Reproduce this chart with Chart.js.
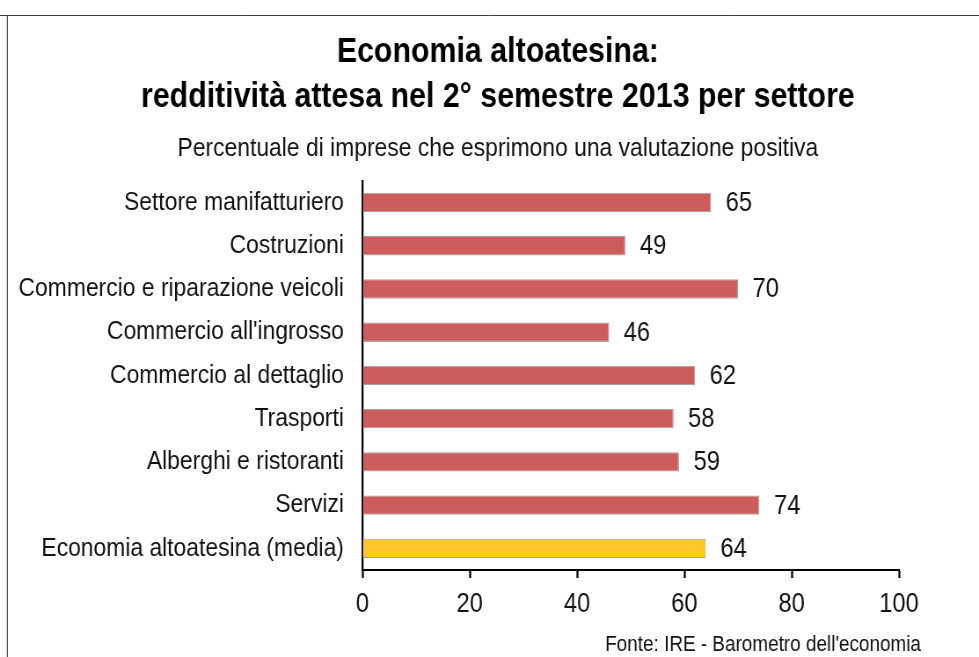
<!DOCTYPE html>
<html lang="it">
<head>
<meta charset="utf-8">
<title>Economia altoatesina: redditività attesa nel 2° semestre 2013</title>
<script src="https://cdn.jsdelivr.net/npm/chart.js@4.4.1/dist/chart.umd.min.js"></script>
<style>
    html, body { margin: 0; padding: 0; background: #fff; overflow: hidden; }
    /* the canvas is laid out wider and squeezed back to 979px, which gives the narrow lettering */
    #wrap {
        position: absolute;
        left: 0;
        top: 0;
        width: 1113px;
        height: 657px;
        transform: scaleX(0.8796);
        transform-origin: 0 0;
    }
</style>
</head>
<body>
<div id="wrap"><canvas id="redditivitaChart"></canvas></div>
<script>
const categories = [
    'Settore manifatturiero',
    'Costruzioni',
    'Commercio e riparazione veicoli',
    "Commercio all'ingrosso",
    'Commercio al dettaglio',
    'Trasporti',
    'Alberghi e ristoranti',
    'Servizi',
    'Economia altoatesina (media)'
];
const positiveShare = [65, 49, 70, 46, 62, 58, 59, 74, 64];
const xTickValues = [0, 20, 40, 60, 80, 100];

const titleLines = ['Economia altoatesina:', 'redditività attesa nel 2° semestre 2013 per settore'];
const subtitleText = 'Percentuale di imprese che esprimono una valutazione positiva';
const sourceText = "Fonte: IRE - Barometro dell'economia";

document.addEventListener('DOMContentLoaded', function() {
    const FONT = "'Liberation Sans', Arial, sans-serif";
    const SCALE_X = 0.8796;
    const averageIndex = categories.length - 1;

    // thin frame round the whole graphic
    const framePlugin = {
        id: 'frame',
        beforeDraw(chart) {
            const ctx = chart.ctx;
            ctx.save();
            ctx.strokeStyle = '#3c3c3c';
            ctx.lineWidth = 1;
            ctx.beginPath();
            ctx.moveTo(0, 15.5);
            ctx.lineTo(chart.width, 15.5);
            ctx.stroke();
            ctx.lineWidth = 1 / SCALE_X;
            ctx.beginPath();
            ctx.moveTo(8.3, 15);
            ctx.lineTo(8.3, chart.height);
            ctx.stroke();
            ctx.restore();
        }
    };

    // title and subtitle are centred on the frame, not on the padded box
    const centreTitles = {
        id: 'centreTitles',
        afterLayout(chart) {
            chart.boxes.forEach(function(box) {
                const opts = box.options || {};
                if (box.position === 'top' && (typeof opts.text === 'string' || Array.isArray(opts.text))) {
                    box.left = 110;
                }
            });
        }
    };

    // numbers at the end of each bar, plus the source line
    const valueLabels = {
        id: 'valueLabels',
        afterDatasetsDraw(chart) {
            const ctx = chart.ctx;
            const meta = chart.getDatasetMeta(0);
            ctx.save();
            ctx.font = '27px ' + FONT;
            ctx.fillStyle = '#111';
            ctx.textAlign = 'left';
            ctx.textBaseline = 'middle';
            meta.data.forEach(function(bar, i) {
                ctx.fillText(String(chart.data.datasets[0].data[i]), bar.x + 16.5, bar.y + 1);
            });
            ctx.font = '21.5px ' + FONT;
            ctx.textAlign = 'right';
            ctx.fillText(sourceText, 1047, 645);
            ctx.restore();
        }
    };

    const ctx = document.getElementById('redditivitaChart').getContext('2d');
    new Chart(ctx, {
        type: 'bar',
        data: {
            labels: categories,
            datasets: [{
                data: positiveShare,
                backgroundColor: (c) => c.dataIndex === averageIndex ? '#FFC72C' : '#CD5C5C',
                borderColor: '#A3A3A3',
                borderWidth: 1.1,
                borderSkipped: 'start',
                categoryPercentage: 1,
                barPercentage: 0.45
            }]
        },
        options: {
            indexAxis: 'y',
            responsive: true,
            maintainAspectRatio: false,
            animation: false,
            layout: {
                padding: { top: 0, left: 12, right: 91, bottom: 37 }
            },
            plugins: {
                legend: { display: false },
                tooltip: { enabled: false },
                title: {
                    display: true,
                    text: titleLines,
                    color: '#000',
                    font: { family: FONT, size: 34.5, weight: 'bold', lineHeight: 1.3 },
                    padding: { top: 30.5, bottom: 0 }
                },
                subtitle: {
                    display: true,
                    text: subtitleText,
                    color: '#111',
                    font: { family: FONT, size: 26, lineHeight: 1.2 },
                    padding: { top: 13, bottom: 16.4 }
                }
            },
            scales: {
                x: {
                    type: 'linear',
                    min: 0,
                    max: 100,
                    afterBuildTicks: (scale) => { scale.ticks = xTickValues.map(v => ({ value: v })); },
                    afterFit: (scale) => { scale.height = 50; },
                    grid: {
                        display: true,
                        drawOnChartArea: false,
                        drawTicks: true,
                        tickLength: 8,
                        tickColor: '#000',
                        tickWidth: 2 / SCALE_X
                    },
                    border: { display: true, color: '#000', width: 2 },
                    ticks: {
                        color: '#111',
                        font: { family: FONT, size: 27 },
                        padding: 10,
                        maxRotation: 0
                    }
                },
                y: {
                    afterFit: (scale) => { scale.width = 400; },
                    grid: { display: false, drawTicks: false },
                    border: { display: true, color: '#000', width: 2 / SCALE_X },
                    ticks: {
                        color: '#111',
                        font: { family: FONT, size: 26 },
                        padding: 21,
                        autoSkip: false
                    }
                }
            }
        },
        plugins: [framePlugin, centreTitles, valueLabels]
    });
});
</script>
</body>
</html>
